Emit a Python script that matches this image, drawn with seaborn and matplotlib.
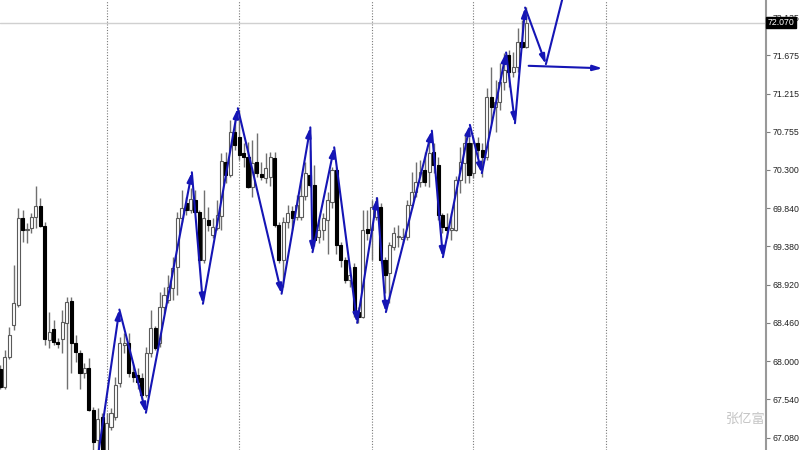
import numpy as np
import pandas as pd
import seaborn as sns
import matplotlib
matplotlib.use("Agg")
import matplotlib.pyplot as plt
import matplotlib.transforms as mtransforms

# candle data
opens = [67.90, 67.69, 68.05, 68.43, 68.68, 69.72, 69.58, 69.60, 69.73, 69.87,
         69.63, 68.25, 68.39, 68.23, 68.27, 68.46, 68.72, 68.22, 68.10, 67.86,
         67.92, 67.41, 67.05, 67.33, 66.91, 67.21, 67.33, 67.74, 68.19, 68.22,
         67.87, 67.83, 67.80, 67.59, 68.10, 68.40, 68.22, 68.65, 68.74, 68.88,
         69.13, 69.72, 69.90, 69.82, 69.94, 69.79, 69.22, 69.70, 69.52, 69.60,
         69.74, 70.39, 70.24, 70.75, 70.69, 70.50, 70.45, 70.09, 70.39, 70.25,
         70.20, 70.21, 70.44, 69.64, 69.22, 69.67, 69.80, 69.73, 69.73, 69.99,
         70.24, 70.12, 69.49, 69.58, 69.70, 69.91, 70.30, 69.40, 69.22, 68.98,
         69.13, 68.59, 68.53, 69.59, 69.58, 69.73, 69.85, 69.22, 69.06, 69.37,
         69.49, 69.47, 69.49, 69.88, 70.03, 70.15, 70.30, 70.27, 70.51, 70.36,
         69.76, 69.61, 69.58, 69.58, 70.18, 70.38, 70.62, 70.26, 70.62, 70.54,
         70.45, 71.17, 71.05, 71.11, 71.35, 71.68, 71.48, 71.53, 71.84, 71.78]
highs = [67.95, 68.13, 68.41, 69.16, 69.84, 69.82, 69.66, 69.78, 70.11, 69.96,
         69.67, 68.59, 68.50, 68.28, 68.62, 68.77, 68.77, 68.31, 68.13, 67.98,
         68.04, 67.45, 67.44, 67.38, 67.38, 67.44, 67.81, 68.29, 68.34, 68.34,
         67.96, 67.92, 67.86, 68.17, 68.62, 68.42, 68.83, 68.89, 69.04, 69.25,
         69.79, 70.06, 69.97, 70.08, 70.06, 69.82, 70.06, 69.85, 69.72, 69.94,
         70.50, 70.51, 70.90, 70.90, 71.02, 70.62, 70.63, 70.66, 70.74, 70.39,
         70.50, 70.51, 70.51, 69.67, 69.73, 69.88, 69.86, 70.00, 70.18, 70.39,
         70.54, 70.36, 69.70, 69.78, 70.03, 70.33, 70.33, 69.43, 69.25, 69.13,
         69.18, 68.65, 69.82, 69.82, 69.94, 69.97, 69.90, 69.25, 69.43, 69.61,
         69.64, 69.60, 69.94, 70.27, 70.39, 70.42, 70.51, 70.66, 70.62, 70.45,
         69.78, 69.78, 69.78, 70.22, 70.57, 70.74, 70.69, 70.69, 70.69, 70.62,
         71.28, 71.53, 71.38, 71.58, 71.70, 71.74, 71.72, 72.01, 72.10, 72.26]
lows = [67.66, 67.67, 68.02, 68.38, 68.65, 69.43, 69.42, 69.54, 69.60, 69.61,
        68.19, 68.16, 68.19, 68.16, 68.10, 67.67, 67.86, 67.99, 67.66, 67.80,
        67.40, 66.93, 66.91, 66.81, 66.84, 67.17, 67.29, 67.69, 68.10, 67.81,
        67.75, 67.66, 67.53, 67.57, 68.05, 68.13, 68.17, 68.58, 68.70, 68.74,
        68.79, 69.67, 69.76, 69.78, 69.78, 69.18, 69.18, 69.56, 69.48, 69.58,
        69.58, 70.14, 70.21, 70.54, 70.42, 70.33, 70.08, 69.97, 70.21, 70.18,
        70.14, 70.11, 69.61, 69.18, 68.89, 69.60, 69.58, 69.70, 69.70, 69.94,
        70.09, 69.38, 69.42, 69.46, 69.29, 69.84, 69.29, 69.13, 68.94, 68.89,
        68.53, 68.46, 68.52, 69.46, 69.22, 69.70, 69.18, 68.82, 68.70, 69.34,
        69.37, 69.42, 69.46, 69.84, 69.97, 70.09, 70.11, 70.09, 70.26, 69.70,
        69.54, 69.48, 69.46, 69.56, 70.02, 70.14, 70.14, 70.20, 70.45, 70.21,
        70.42, 70.86, 70.76, 71.02, 71.26, 71.30, 71.41, 71.47, 71.77, 71.77]
closes = [67.69, 68.05, 68.31, 68.70, 69.72, 69.58, 69.59, 69.73, 69.87, 69.63,
          68.27, 68.35, 68.23, 68.21, 68.47, 68.71, 68.22, 68.11, 67.86, 67.92,
          67.41, 67.03, 67.31, 66.87, 67.26, 67.38, 67.71, 68.22, 68.22, 67.86,
          67.81, 67.75, 67.59, 68.10, 68.40, 68.16, 68.65, 68.79, 68.89, 69.12,
          69.72, 69.84, 69.82, 69.95, 69.79, 69.22, 69.72, 69.64, 69.61, 69.76,
          70.41, 70.24, 70.75, 70.60, 70.48, 70.45, 70.09, 70.38, 70.26, 70.21,
          70.32, 70.45, 69.64, 69.22, 69.67, 69.78, 69.72, 69.88, 69.99, 70.26,
          70.12, 69.46, 69.58, 69.72, 69.94, 70.30, 69.40, 69.22, 68.98, 69.04,
          68.58, 68.53, 69.58, 69.54, 69.85, 69.85, 69.22, 69.04, 69.40, 69.54,
          69.50, 69.49, 69.88, 70.03, 70.15, 70.27, 70.15, 70.50, 70.36, 69.76,
          69.61, 69.58, 69.60, 70.18, 70.39, 70.62, 70.24, 70.62, 70.54, 70.45,
          71.17, 71.05, 71.11, 71.35, 71.50, 71.48, 71.53, 71.84, 71.78, 72.07]

# hand drawn zigzag (bar position, price)
zz_bar = [22.0, 26.9, 32.9, 43.3, 45.8, 53.7, 63.6, 70.1, 70.6, 75.5, 80.7,
          85.2, 87.2, 97.6, 100.1, 106.2, 108.9, 114.4, 116.4, 118.7, 123.4, 128.2]
zz_price = [66.84, 68.62, 67.38, 70.27, 68.69, 71.04, 68.81, 70.81, 69.31, 70.57, 68.46,
            69.96, 68.59, 70.77, 69.25, 70.84, 70.26, 71.71, 70.86, 72.25, 71.57, 72.58]
flat_bar = [119.5, 136.2]
flat_price = [71.55, 71.52]

separators = [24, 54, 84, 107, 137]
price_ticks = [67.080, 67.540, 68.000, 68.460, 68.920, 69.380, 69.840,
               70.300, 70.755, 71.215, 71.675, 72.135]
bid = 72.070

sns.set_theme(style="white")
plt.rcParams['font.family'] = ['Liberation Sans', 'DejaVu Sans']

df = pd.DataFrame({"open": opens, "high": highs, "low": lows, "close": closes})
df["bar"] = np.arange(len(df))
df["up"] = df["close"] >= df["open"]

fig = plt.figure(figsize=(8, 4.5), dpi=100)
ax = fig.add_axes([0, 0, 766 / 800, 1])

for s in separators:
    ax.axvline(s, color="#7a7a7a", lw=0.8, ls=(0, (1, 1.5)), zorder=1)
ax.axhline(bid, color="#d0d0d0", lw=1, zorder=1)

# wicks then bodies
ax.vlines(df["bar"], df["low"], df["high"], color="#707070", lw=1, zorder=2)
bottom = df[["open", "close"]].min(axis=1)
height = (df["close"] - df["open"]).abs().clip(lower=0.01)
ax.bar(df["bar"], height, bottom=bottom, width=0.7,
       color=np.where(df["up"], "white", "black"),
       edgecolor=np.where(df["up"], "#5a5a5a", "black"), lw=0.8, zorder=3)

blue = "#1515b5"
astyle = "-|>,head_length=0.55,head_width=0.16"
pts = list(zip(zz_bar, zz_price))
for (x0, y0), (x1, y1) in zip(pts[:-1], pts[1:]):
    ax.annotate("", xy=(x1, y1), xytext=(x0, y0), annotation_clip=False,
                arrowprops=dict(arrowstyle=astyle, color=blue, lw=1.5,
                                shrinkA=0, shrinkB=0, mutation_scale=10), zorder=5)
ax.annotate("", xy=(flat_bar[1], flat_price[1]), xytext=(flat_bar[0], flat_price[0]),
            annotation_clip=False,
            arrowprops=dict(arrowstyle=astyle, color=blue, lw=1.5,
                            shrinkA=0, shrinkB=0, mutation_scale=10), zorder=5)

ax.set_xlim(-0.11, 173.2)
ax.set_ylim(66.932, 72.341)
ax.set_xticks([])
ax.yaxis.tick_right()
ax.set_yticks(price_ticks)
ax.set_yticklabels([f"{t:.3f}" for t in price_ticks])
ax.tick_params(axis="y", length=3, width=0.8, color="#808080", labelsize=6.3,
               labelcolor="#222222", pad=2, right=True, left=False)
for side in ["top", "left", "bottom"]:
    ax.spines[side].set_visible(False)
ax.spines["right"].set_color("#999999")
ax.spines["right"].set_linewidth(1.5)

trans = mtransforms.blended_transform_factory(ax.transAxes, ax.transData)
ax.text(1.002, bid, "72.070", transform=trans, color="white", fontsize=6.3,
        va="center", ha="left", clip_on=False, zorder=10,
        bbox=dict(boxstyle="square,pad=0.15", facecolor="black", edgecolor="black"))

fig.text(746 / 800, 1 - 419 / 450, "张亿富", family=["Noto Sans CJK SC"],
         color="#c4c4c4", fontsize=9.5, ha="center", va="center")

fig.savefig("out.png", dpi=100)
